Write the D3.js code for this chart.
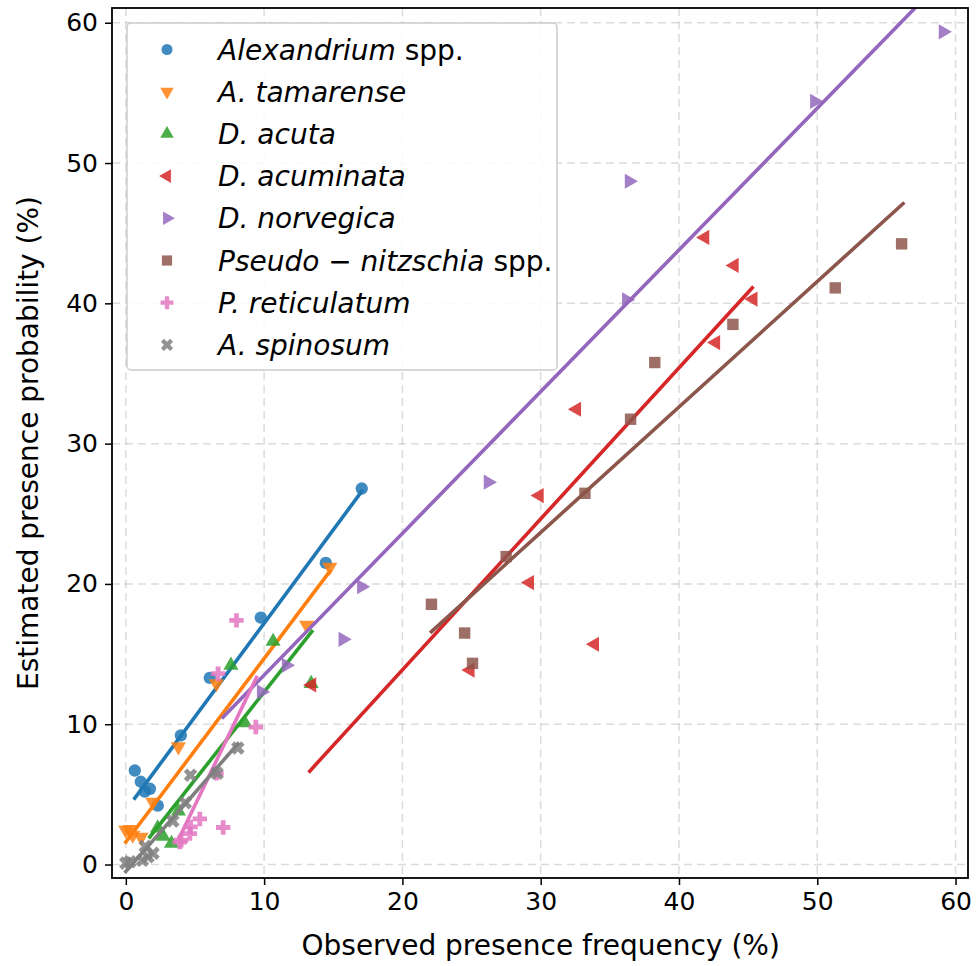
<!DOCTYPE html>
<html>
<head>
<meta charset="utf-8">
<script src="https://cdn.jsdelivr.net/npm/d3@7"></script>
<style>
  body { margin: 0; background: #fff; }
  svg { font-family: "DejaVu Sans", sans-serif; }
</style>
</head>
<body>
<div id="chart"></div>
<script>
// species names, colours and marker styles
var species = ['Alexandrium', 'A. tamarense', 'D. acuta', 'D. acuminata', 'D. norvegica',
               'Pseudo \u2212 nitzschia', 'P. reticulatum', 'A. spinosum'];
var suffix = [' spp.', '', '', '', '', ' spp.', '', ''];
var colors = ['#1f77b4', '#ff7f0e', '#2ca02c', '#d62728', '#9467bd', '#8c564b', '#e377c2', '#7f7f7f'];

// observed (x) vs estimated (y) presence, %
var alexX = [0.65, 1.08, 1.37, 1.74, 2.31, 3.98, 6.07, 9.76, 14.46, 17.06];
var alexY = [6.7, 5.9, 5.2, 5.4, 4.2, 9.2, 13.3, 17.6, 21.5, 26.8];
var tamX = [0.0, 0.3, 0.5, 1.1, 1.95, 3.8, 6.55, 13.07, 14.75];
var tamY = [2.45, 2.5, 2.1, 1.95, 4.45, 8.4, 12.9, 17.07, 21.2];
var acutaX = [2.3, 2.7, 3.3, 3.8, 8.6, 7.6, 10.65, 13.4];
var acutaY = [2.6, 2.0, 1.5, 3.8, 10.1, 14.2, 15.9, 12.9];
var acumX = [41.87, 44.0, 45.36, 42.66, 32.6, 29.9, 29.2, 33.9, 24.9, 13.45];
var acumY = [44.7, 42.7, 40.3, 37.2, 32.45, 26.3, 20.1, 15.7, 13.86, 12.8];
var norvX = [9.8, 11.6, 15.7, 17.04, 26.2, 36.2, 36.4, 49.8, 59.1];
var norvY = [12.3, 14.2, 16.05, 19.8, 27.25, 40.25, 48.7, 54.4, 59.35];
var pseuX = [22.1, 24.5, 25.07, 27.5, 33.2, 36.5, 38.25, 43.9, 51.3, 56.1];
var pseuY = [18.55, 16.5, 14.34, 21.95, 26.46, 31.74, 35.78, 38.5, 41.1, 44.24];
var retiX = [3.9, 4.0, 4.63, 4.68, 5.35, 6.56, 7.04, 6.67, 9.4, 8.0];
var retiY = [1.6, 1.73, 2.2, 2.68, 3.25, 6.5, 2.64, 13.6, 9.8, 17.4];
var spinX = [0.0, 0.3, 1.2, 1.6, 1.97, 1.4, 3.4, 4.3, 4.68, 6.6, 8.1];
var spinY = [0.1, 0.2, 0.3, 0.55, 0.8, 1.3, 3.1, 4.4, 6.37, 6.5, 8.3];

// fitted lines: [x start, y start, x end, y end]
var fits = [
  [0.65, 4.73, 17.06, 26.6],
  [0.0, 1.6, 14.75, 20.9],
  [1.74, 1.97, 13.45, 16.6],
  [13.3, 6.66, 45.3, 41.1],
  [7.03, 10.5, 59.1, 63.1],
  [22.1, 16.6, 56.2, 47.1],
  [3.9, 1.97, 9.45, 13.34],
  [0.0, -0.5, 8.1, 8.6]
];

var xTicks = [0, 10, 20, 30, 40, 50, 60];
var yTicks = [0, 10, 20, 30, 40, 50, 60];

var seriesX = [alexX, tamX, acutaX, acumX, norvX, pseuX, retiX, spinX];
var seriesY = [alexY, tamY, acutaY, acumY, norvY, pseuY, retiY, spinY];

var W = 977, H = 966,
    m = {left: 112, right: 9, top: 8, bottom: 88},
    iw = W - m.left - m.right,
    ih = H - m.top - m.bottom;

var x = d3.scaleLinear().domain([-1.0, 60.9]).range([0, iw]);
var y = d3.scaleLinear().domain([-0.96, 61.05]).range([ih, 0]);

// marker per species: [symbol type, rotation, area]
var markers = [
  [d3.symbolCircle, 0, 120],
  [d3.symbolTriangle, 180, 100],
  [d3.symbolTriangle, 0, 100],
  [d3.symbolTriangle, -90, 100],
  [d3.symbolTriangle, 90, 100],
  [d3.symbolSquare, 0, 130],
  [d3.symbolCross, 0, 115],
  [d3.symbolCross, 45, 115]
];

var svg = d3.select('#chart').append('svg')
    .attr('width', W)
    .attr('height', H);

svg.append('defs').append('clipPath').attr('id', 'clip')
  .append('rect').attr('width', iw).attr('height', ih);

var g = svg.append('g')
    .attr('transform', 'translate(' + m.left + ',' + m.top + ')');

// grid
g.append('g').selectAll('line').data(xTicks).enter().append('line')
    .attr('x1', function(d){ return x(d); })
    .attr('x2', function(d){ return x(d); })
    .attr('y1', 0).attr('y2', ih)
    .attr('stroke', '#b0b0b0').attr('stroke-opacity', 0.45)
    .attr('stroke-width', 1.5).attr('stroke-dasharray', '8,5');
g.append('g').selectAll('line').data(yTicks).enter().append('line')
    .attr('y1', function(d){ return y(d); })
    .attr('y2', function(d){ return y(d); })
    .attr('x1', 0).attr('x2', iw)
    .attr('stroke', '#b0b0b0').attr('stroke-opacity', 0.45)
    .attr('stroke-width', 1.5).attr('stroke-dasharray', '8,5');

var plot = g.append('g').attr('clip-path', 'url(#clip)');

species.forEach(function(s, i){
  var pts = seriesX[i].map(function(v, j){ return [v, seriesY[i][j]]; });
  var mk = markers[i];
  var sym = d3.symbol().type(mk[0]).size(mk[2]);

  plot.append('g').selectAll('path').data(pts).enter().append('path')
      .attr('d', sym)
      .attr('transform', function(d){
        return 'translate(' + x(d[0]) + ',' + y(d[1]) + ') rotate(' + mk[1] + ')';
      })
      .attr('fill', colors[i])
      .attr('fill-opacity', 0.85);

  var f = fits[i];
  plot.append('line')
      .attr('x1', x(f[0])).attr('y1', y(f[1]))
      .attr('x2', x(f[2])).attr('y2', y(f[3]))
      .attr('stroke', colors[i])
      .attr('stroke-width', 3.6)
      .attr('stroke-linecap', 'square');
});

// axes
var xAxis = g.append('g')
    .attr('transform', 'translate(0,' + ih + ')')
    .call(d3.axisBottom(x).tickValues(xTicks).tickSize(7).tickPadding(7));
var yAxis = g.append('g')
    .call(d3.axisLeft(y).tickValues(yTicks).tickSize(7).tickPadding(7));

[xAxis, yAxis].forEach(function(a){
  a.select('.domain').remove();
  a.selectAll('.tick line').attr('stroke', '#000').attr('stroke-width', 1.5);
  a.selectAll('.tick text')
      .attr('font-family', '"DejaVu Sans", sans-serif')
      .attr('font-size', 25)
      .attr('fill', '#000');
});

g.append('rect')
    .attr('width', iw).attr('height', ih)
    .attr('fill', 'none').attr('stroke', '#000').attr('stroke-width', 1.8);

svg.append('text')
    .attr('x', m.left + x(30)).attr('y', 955)
    .attr('text-anchor', 'middle')
    .attr('font-size', 28)
    .text('Observed presence frequency (%)');

svg.append('text')
    .attr('transform', 'translate(38,' + (m.top + ih / 2) + ') rotate(-90)')
    .attr('text-anchor', 'middle')
    .attr('font-size', 28)
    .text('Estimated presence probability (%)');

// legend
var leg = g.append('g').attr('transform', 'translate(15,15)');
leg.append('rect')
    .attr('width', 430).attr('height', 347)
    .attr('rx', 4)
    .attr('fill', '#fff').attr('fill-opacity', 0.85)
    .attr('stroke', '#cccccc').attr('stroke-width', 1.5);

species.forEach(function(s, i){
  var mk = markers[i],
      cy = 26.5 + i * 42.2;
  leg.append('path')
      .attr('d', d3.symbol().type(mk[0]).size(mk[2] * 0.8))
      .attr('transform', 'translate(40,' + cy + ') rotate(' + mk[1] + ')')
      .attr('fill', colors[i]).attr('fill-opacity', 0.85);
  var t = leg.append('text')
      .attr('x', 91).attr('y', cy + 10)
      .attr('font-size', 28);
  t.append('tspan').attr('font-style', 'italic').text(s);
  if (suffix[i]) t.append('tspan').text(suffix[i]);
});
</script>
</body>
</html>
